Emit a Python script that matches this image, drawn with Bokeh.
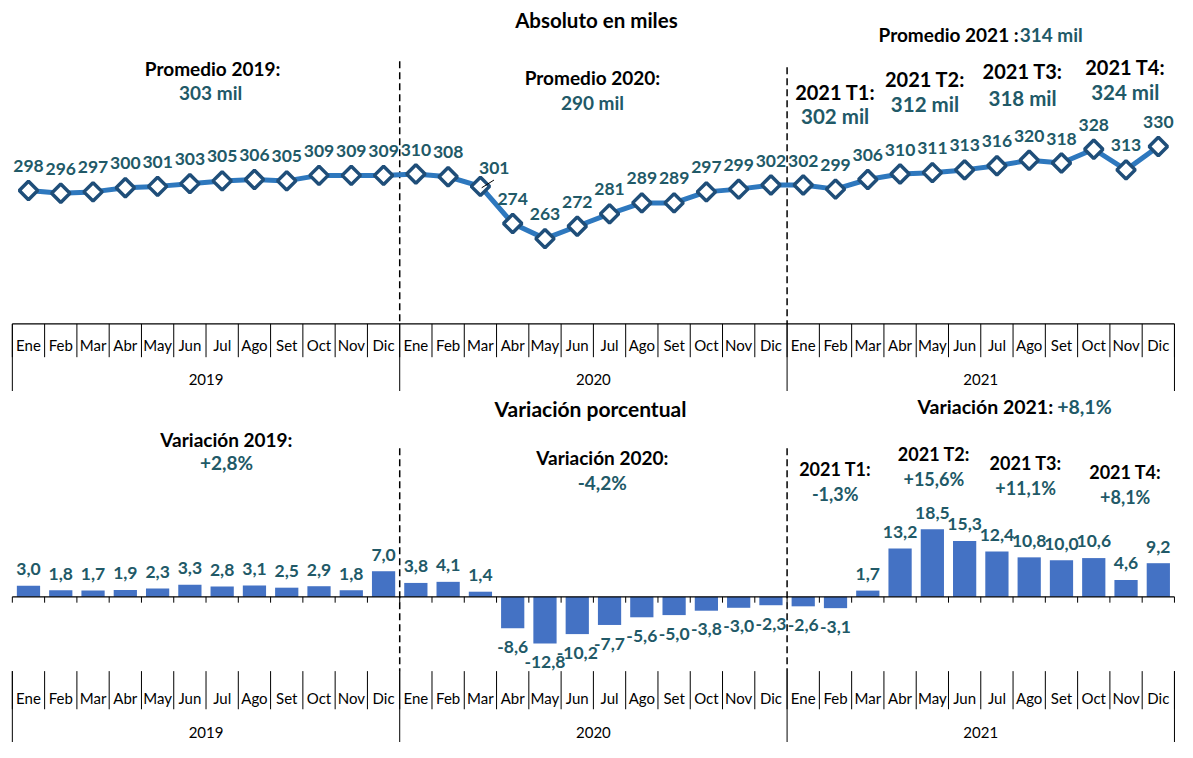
import numpy as np
from bokeh.plotting import figure
from bokeh.layouts import column
from bokeh.models import Range1d
from bokeh.core.properties import value
from bokeh.embed import file_html
from bokeh.resources import INLINE

# ---------------- data ----------------
months = ["Ene", "Feb", "Mar", "Abr", "May", "Jun", "Jul", "Ago", "Set", "Oct", "Nov", "Dic"]
years = ["2019", "2020", "2021"]

abs_2019 = [298, 296, 297, 300, 301, 303, 305, 306, 305, 309, 309, 309]
abs_2020 = [310, 308, 301, 274, 263, 272, 281, 289, 289, 297, 299, 302]
abs_2021 = [302, 299, 306, 310, 311, 313, 316, 320, 318, 328, 313, 330]

var_2019 = [3.0, 1.8, 1.7, 1.9, 2.3, 3.3, 2.8, 3.1, 2.5, 2.9, 1.8, 7.0]
var_2020 = [3.8, 4.1, 1.4, -8.6, -12.8, -10.2, -7.7, -5.6, -5.0, -3.8, -3.0, -2.3]
var_2021 = [-2.6, -3.1, 1.7, 13.2, 18.5, 15.3, 12.4, 10.8, 10.0, 10.6, 4.6, 9.2]

promedio_anual = ["303 mil", "290 mil", "314 mil"]
promedio_trim_2021 = ["302 mil", "312 mil", "318 mil", "324 mil"]
variacion_anual = ["+2,8%", "-4,2%", "+8,1%"]
variacion_trim_2021 = ["-1,3%", "+15,6%", "+11,1%", "+8,1%"]

# ---------------- derived ----------------
abs_all = abs_2019 + abs_2020 + abs_2021
var_all = var_2019 + var_2020 + var_2021
n = len(abs_all)
x = np.arange(n)
month_labels = months * len(years)
year_centers = [i * len(months) + (len(months) - 1) / 2 for i in range(len(years))]
bounds = np.arange(n + 1) - 0.5
year_bounds = [i * len(months) - 0.5 for i in range(len(years) + 1)]

FONT = value("Lato")
TEAL = "#215967"
BLACK = "#000000"

# layout helpers (reference pixel -> data)
SLOT = 32.72
X0 = 12.0
def xd(rx):
    return (rx - X0) / SLOT - 0.5

TOP_SCALE = 1.403
def ty(ry):
    return 330 - (ry - 149) / TOP_SCALE

BOT_SCALE = 3.738
def by(ry):
    return (609 - ry) / BOT_SCALE

W = 1177
H1 = 391
H2 = 351


def base_fig(h, yr):
    p = figure(width=W, height=h, x_range=Range1d(xd(0), xd(1193)), y_range=yr,
               x_axis_type=None, y_axis_type=None, toolbar_location=None,
               output_backend="svg", min_border=0, outline_line_color=None)
    p.grid.visible = False
    p.background_fill_color = "white"
    p.border_fill_color = "white"
    return p


def txt(p, xs, ys, texts, color, size, bold=True, align="center"):
    p.text(x=list(xs), y=list(ys), text=list(texts), text_color=color,
           text_font=FONT, text_font_size=size,
           text_font_style="bold" if bold else "normal",
           text_align=align, text_baseline="middle")


def fmt(v):
    return f"{v:.1f}".replace(".", ",")

# ================= TOP: absoluto =================
p1 = base_fig(H1, Range1d(ty(399), ty(0)))

# category axis box
base_top = ty(330)
p1.segment(x0=[bounds[0]], y0=[base_top], x1=[bounds[-1]], y1=[base_top], line_color=BLACK, line_width=1.2)
p1.segment(x0=bounds, y0=[base_top] * len(bounds), x1=bounds, y1=[ty(364)] * len(bounds), line_color=BLACK, line_width=1)
p1.segment(x0=year_bounds, y0=[base_top] * 4, x1=year_bounds, y1=[ty(399)] * 4, line_color=BLACK, line_width=1)
txt(p1, x, [ty(352)] * n, month_labels, BLACK, "15px", bold=False)
txt(p1, year_centers, [ty(387)] * len(years), years, BLACK, "15px", bold=False)

# dashed separators
p1.segment(x0=year_bounds[1:3], y0=[ty(62), ty(68)], x1=year_bounds[1:3], y1=[base_top, base_top],
           line_color=BLACK, line_width=1.5, line_dash="7 4")

# line + markers
p1.line(x, abs_all, line_color="#2E78BE", line_width=5)
p1.scatter(x, abs_all, marker="square", angle=np.pi / 4, size=13, fill_color="white",
           line_color="#1F4E79", line_width=3.5)

# data labels
lab_dx = np.zeros(n)
lab_dy = np.full(n, 25.0)
special = 14  # Mar 2020 label with leader line
lab_dx[special] = 14 / SLOT
lab_dy[special] = 19.0
lab_y = [v + d / TOP_SCALE for v, d in zip(abs_all, lab_dy)]
txt(p1, x + lab_dx, lab_y, [str(v) for v in abs_all], TEAL, "17.5px")
p1.segment(x0=[special + 0.04], y0=[abs_all[special] - 1.0], x1=[special + 0.42], y1=[abs_all[special] + 4.6],
           line_color=BLACK, line_width=1)

# title and annotations
txt(p1, [xd(604)], [ty(20)], ["Absoluto en miles"], BLACK, "20.5px")
txt(p1, [xd(215), xd(600)], [ty(69), ty(79)], ["Promedio 2019:", "Promedio 2020:"], BLACK, "19px")
txt(p1, [xd(213), xd(600)], [ty(94), ty(104)], promedio_anual[:2], TEAL, "19px")
txt(p1, [xd(1032)], [ty(35)], ["Promedio 2021 :"], BLACK, "19px", align="right")
txt(p1, [xd(1033)], [ty(35)], [promedio_anual[2]], TEAL, "19px", align="left")
tx = [xd(846), xd(937), xd(1036), xd(1140)]
txt(p1, tx, [ty(93), ty(80), ty(72), ty(68)], ["2021 T1:", "2021 T2:", "2021 T3:", "2021 T4:"], BLACK, "20px")
txt(p1, tx, [ty(118), ty(106), ty(99), ty(93)], promedio_trim_2021, TEAL, "20.5px")

# ================= BOTTOM: variacion =================
p2 = base_fig(H2, Range1d(by(758), by(399)))

p2.vbar(x=x, top=var_all, bottom=0, width=0.72, fill_color="#4472C4", line_color=None)

# zero line with ticks
p2.segment(x0=[bounds[0]], y0=[0], x1=[bounds[-1]], y1=[0], line_color=BLACK, line_width=1.2)
p2.segment(x0=bounds, y0=[0] * len(bounds), x1=bounds, y1=[by(615)] * len(bounds), line_color=BLACK, line_width=1)

# category labels (low position)
p2.segment(x0=bounds, y0=[by(685)] * len(bounds), x1=bounds, y1=[by(724)] * len(bounds), line_color=BLACK, line_width=1)
p2.segment(x0=year_bounds, y0=[by(685)] * 4, x1=year_bounds, y1=[by(758)] * 4, line_color=BLACK, line_width=1)
txt(p2, x, [by(712)] * n, month_labels, BLACK, "15px", bold=False)
txt(p2, year_centers, [by(748)] * len(years), years, BLACK, "15px", bold=False)

# dashed separators
p2.segment(x0=year_bounds[1:3], y0=[by(457)] * 2, x1=year_bounds[1:3], y1=[by(685)] * 2,
           line_color=BLACK, line_width=1.5, line_dash="7 4")

# bar labels
vy = [v + (17 / BOT_SCALE if v >= 0 else -19 / BOT_SCALE) for v in var_all]
txt(p2, x, vy, [fmt(v) for v in var_all], TEAL, "17.5px")

# titles / annotations
txt(p2, [xd(598)], [by(416)], ["Variación porcentual"], BLACK, "21px")
txt(p2, [xd(229), xd(610)], [by(448), by(467)], ["Variación 2019:", "Variación 2020:"], BLACK, "19px")
txt(p2, [xd(229), xd(610)], [by(472), by(492)], variacion_anual[:2], TEAL, "19px")
txt(p2, [xd(1067)], [by(414)], ["Variación 2021:"], BLACK, "19.5px", align="right")
txt(p2, [xd(1071)], [by(414)], [variacion_anual[2]], TEAL, "19.5px", align="left")
bx = [xd(846), xd(946), xd(1039), xd(1140)]
txt(p2, bx, [by(478), by(463), by(472), by(481)], ["2021 T1:", "2021 T2:", "2021 T3:", "2021 T4:"], BLACK, "18px")
txt(p2, bx, [by(504), by(489), by(498), by(507)], variacion_trim_2021, TEAL, "18px")

layout = column(p1, p2, spacing=0)
open("out.html", "w").write(file_html(layout, INLINE))
